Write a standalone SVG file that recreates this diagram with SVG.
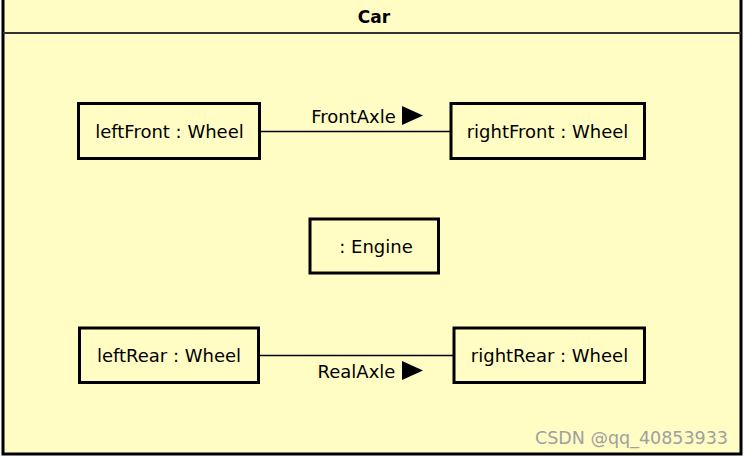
<svg xmlns="http://www.w3.org/2000/svg" width="744" height="458" viewBox="0 0 744 458">
<style>
.frame{fill:#fffdc4;stroke:#000;stroke-width:3}
.box{fill:#fffdc4;stroke:#000;stroke-width:3}
.lbl{font-family:"DejaVu Sans",sans-serif;font-size:18px;fill:#000;text-anchor:middle}
.edge{stroke:#000;stroke-width:1.5;fill:none}
.tri{fill:#000}
</style>
<rect width="744" height="458" fill="#ffffff"/>
<g id="car">
<rect class="frame" x="3" y="-2" width="738" height="456"/>
<line x1="3" y1="33" x2="741" y2="33" stroke="#333" stroke-width="2"/>
<text x="374" y="23" font-family="DejaVu Sans, sans-serif" font-size="17" font-weight="bold" text-anchor="middle">Car</text>
</g>
<g id="connectors">
<line class="edge" x1="260" y1="131.5" x2="451" y2="131.5"/>
<text class="lbl" x="353.5" y="123">FrontAxle</text>
<polygon class="tri" points="402,106 423,115.5 402,125"/>
<line class="edge" x1="259" y1="355.5" x2="454" y2="355.5"/>
<text class="lbl" x="356.5" y="378">RealAxle</text>
<polygon class="tri" points="402,361 423,370.5 402,380"/>
</g>
<g id="leftFront">
<rect class="box" x="78.5" y="103.5" width="181" height="55"/>
<text class="lbl" x="169.5" y="138">leftFront : Wheel</text>
</g>
<g id="rightFront">
<rect class="box" x="451" y="103.5" width="193.5" height="55"/>
<text class="lbl" x="547.5" y="138">rightFront : Wheel</text>
</g>
<g id="engine">
<rect class="box" x="310" y="219" width="128.5" height="54"/>
<text class="lbl" x="376" y="253">: Engine</text>
</g>
<g id="leftRear">
<rect class="box" x="79.5" y="328" width="179" height="54.5"/>
<text class="lbl" x="169" y="362">leftRear : Wheel</text>
</g>
<g id="rightRear">
<rect class="box" x="454" y="328" width="190.5" height="54.5"/>
<text class="lbl" x="549.5" y="362">rightRear : Wheel</text>
</g>
<text x="728" y="444" font-family="DejaVu Sans, sans-serif" font-size="17.5" fill="#a0a0a0" text-anchor="end">CSDN @qq_40853933</text>
</svg>
